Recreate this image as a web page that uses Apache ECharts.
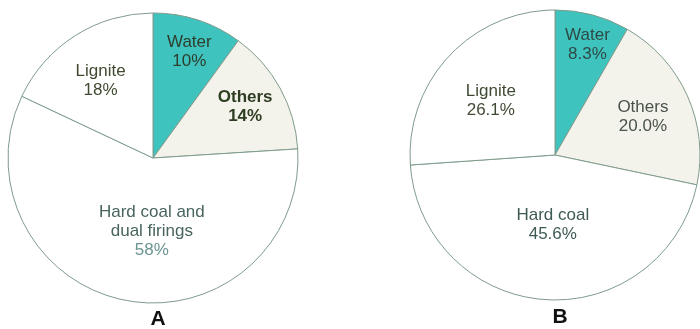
<!DOCTYPE html>
<html>
<head>
<meta charset="utf-8">
<script src="https://cdn.jsdelivr.net/npm/echarts@6/dist/echarts.min.js"></script>
<style>html,body{margin:0;padding:0;background:#fff}#c{width:700px;height:329px}</style>
</head>
<body>
<div id="c"></div>
<script>
const categoriesA = ['Water', 'Others', 'Hard coal and\ndual firings', 'Lignite'];
const valuesA = [10, 14, 58, 18];
const labelsA = ['10%', '14%', '58%', '18%'];
const categoriesB = ['Water', 'Others', 'Hard coal', 'Lignite'];
const valuesB = [8.3, 20.0, 45.6, 26.1];
const labelsB = ['8.3%', '20.0%', '45.6%', '26.1%'];
const panelTitles = ['A', 'B'];

const fills = ['#3ec3bf', '#f3f3ec', '#ffffff', '#ffffff'];
const textColA = ['#2f3d2c', '#2f3d22', '#48645e', '#3f4a30'];
const pctColA = ['#2f3d2c', '#2f3d22', '#6a9490', '#3f4a30'];
const textColB = ['#2f4a44', '#4a524a', '#3f5a55', '#3f4a35'];
const weightA = ['normal', 'bold', 'normal', 'normal'];
// label nudges from the default inside position (layout only)
const nudgeA = [[13, -34], [26, -15], [13, -1], [-12, -13]];
const nudgeB = [[13, -37], [19, -7], [3, -6], [-9, -3]];

function build(cats, vals, labs, cols, pcols, weights) {
  return cats.map((c, i) => ({
    name: c,
    value: vals[i],
    itemStyle: { color: fills[i] },
    label: {
      formatter: '{n|' + c.split('\n').join('}\n{n|') + '}\n{p|' + labs[i] + '}',
      rich: {
        n: { color: cols[i], fontWeight: weights ? weights[i] : 'normal',
             fontFamily: 'Liberation Sans', fontSize: 17, lineHeight: 19 },
        p: { color: pcols[i], fontWeight: weights ? weights[i] : 'normal',
             fontFamily: 'Liberation Sans', fontSize: 17, lineHeight: 19 }
      }
    }
  }));
}

const chart = echarts.init(document.getElementById('c'), null, { renderer: 'canvas' });
const common = {
  type: 'pie',
  radius: 145,
  startAngle: 90,
  clockwise: true,
  silent: true,
  animation: false,
  avoidLabelOverlap: false,
  itemStyle: { borderColor: '#7f9c8c', borderWidth: 1 },
  label: {
    show: true,
    position: 'inside',
    fontFamily: 'Liberation Sans',
    fontSize: 17,
    lineHeight: 19,
    align: 'center'
  },
  labelLine: { show: false },
  emphasis: { disabled: true }
};
chart.setOption({
  animation: false,
  backgroundColor: '#ffffff',
  title: [
    { text: panelTitles[0], left: 153, top: 304, textAlign: 'center',
      textStyle: { fontFamily: 'Liberation Sans', fontSize: 21, fontWeight: 'bold', color: '#111' } },
    { text: panelTitles[1], left: 555, top: 302, textAlign: 'center',
      textStyle: { fontFamily: 'Liberation Sans', fontSize: 21, fontWeight: 'bold', color: '#111' } }
  ],
  series: [
    Object.assign({}, common, {
      center: [153, 158],
      data: build(categoriesA, valuesA, labelsA, textColA, pctColA, weightA),
      labelLayout: p => ({ dx: nudgeA[p.dataIndex][0], dy: nudgeA[p.dataIndex][1] })
    }),
    Object.assign({}, common, {
      center: [555, 155],
      data: build(categoriesB, valuesB, labelsB, textColB, textColB),
      labelLayout: p => ({ dx: nudgeB[p.dataIndex][0], dy: nudgeB[p.dataIndex][1] })
    })
  ]
});
</script>
</body>
</html>
